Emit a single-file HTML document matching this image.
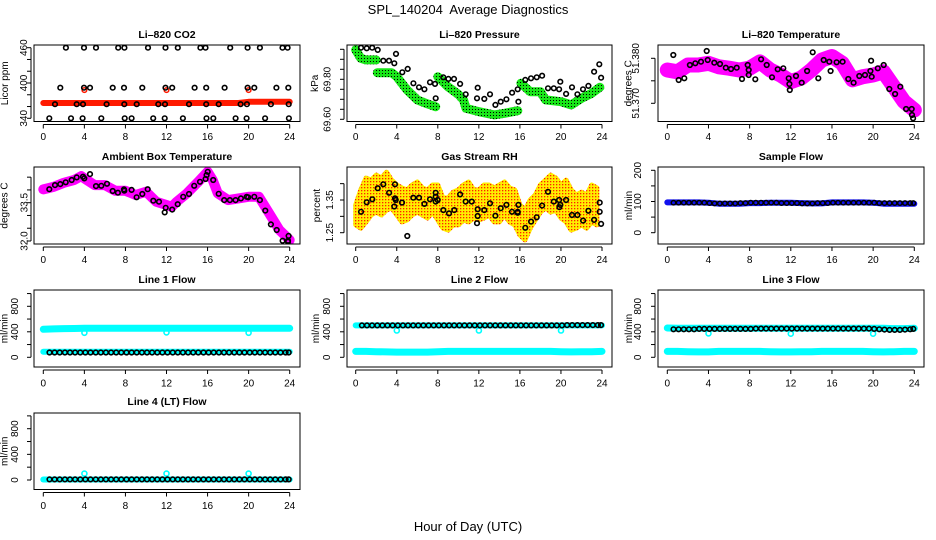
<!DOCTYPE html>
<html><head><meta charset="utf-8"><title>SPL_140204 Average Diagnostics</title>
<style>
html,body{margin:0;padding:0;background:#fff;}
svg{display:block;font-family:"Liberation Sans",sans-serif;}
</style></head>
<body>
<svg id="chart" width="936" height="540" viewBox="0 0 936 540" xmlns="http://www.w3.org/2000/svg">
<defs>
<pattern id="greenDots" width="3" height="3" patternUnits="userSpaceOnUse"><rect width="3" height="3" fill="#19e619"/><rect x="1" y="1" width="1" height="1" fill="#000"/></pattern>
<pattern id="rhDots" width="3" height="3" patternUnits="userSpaceOnUse"><rect width="3" height="3" fill="#ffee00"/><rect x="1" y="1" width="1.3" height="1.3" fill="#ff2000"/></pattern>
</defs>
<text x="468" y="14" text-anchor="middle" font-size="13">SPL_140204&#160; Average Diagnostics</text>
<text x="468" y="531" text-anchor="middle" font-size="13">Hour of Day (UTC)</text>
</svg>
<script>
// ---------- data ----------
const hourTicks = [0,4,8,12,16,20,24];
const hourlyHours = [0,1,2,3,4,5,6,7,8,9,10,11,12,13,14,15,16,17,18,19,20,21,22,23,24];
const halfHours = [0.6,1.1,1.6,2.1,2.6,3.1,3.6,4.1,4.6,5.1,5.6,6.1,6.6,7.1,7.6,8.1,8.6,9.1,9.6,10.1,10.6,11.1,11.6,12.1,12.6,13.1,13.6,14.1,14.6,15.1,15.6,16.1,16.6,17.1,17.6,18.1,18.6,19.1,19.6,20.1,20.6,21.1,21.6,22.1,22.6,23.1,23.6,23.9];
const outlierHours = [4,12,20];

// CO2
const co2Band = [366,366,366,366,366,366,366,366,366,366,366,366,366,366,366,366,366,366,366,366,368,368,368,368,368];
const co2Outliers = [388,388,388];
const co2BlackHours = [2.2,3.96,5.13,7.3,7.9,10.2,11.9,13.1,15.3,15.8,18.2,19.9,21.1,23.3,23.8, 1.66,3.96,4.55,6.76,7.86,9.64,11.9,12.56,14.74,15.87,17.66,19.9,20.55,22.7,23.86, 1.14,3.25,3.87,6.17,7.89,9.1,11.2,11.85,14.19,15.87,17.08,19.22,19.83,22.17,23.9, 0.58,2.7,3.83,5.65,7.93,8.6,10.7,11.82,13.6,15.9,16.56,18.73,19.8,21.6,23.92];
const co2BlackValues = [460,460,460,460,460,460,460,460,460,460,460,460,460,460,460, 392,392,392,392,392,392,392,392,392,392,392,392,392,392,392, 364,364,364,364,364,364,364,364,364,364,364,364,364,364,364, 340,340,340,340,340,340,340,340,340,340,340,340,340,340,340];

// Pressure
const pressBandHours = [0,0.5,1,2,null,2.1,3.5,4,5,6,7,7.8,null,8,9,10,10.5,10.75,12,13.5,14.5,15.8,null,16.1,17,18,18.5,20,21,22,23,23.8];
const pressBandValues = [69.947,69.905,69.897,69.897,null,69.833,69.833,69.813,69.747,69.697,69.677,69.663,null,69.813,69.762,69.725,69.697,69.655,69.638,69.622,69.630,69.643,null,69.780,69.738,69.738,69.697,69.688,69.672,69.705,69.730,69.760];
const pressBlackHours = [0.52,1.07,1.61,2.14,2.69,3.24,3.76,3.93,4.54,5.07,5.62,6.17,6.69,7.24,7.73,7.8,8.54,9.03,9.58,10.17,10.72,11.89,11.82,12.53,13.09,13.61,14.13,14.68,15.24,15.79,15.85,16.53,17.08,17.64,18.16,18.74,19.3,19.82,19.94,20.5,21.08,21.6,22.15,22.67,23.23,23.74,23.91];
const pressBlackValues = [69.958,69.955,69.958,69.947,69.893,69.893,69.880,69.927,69.835,69.852,69.780,69.760,69.750,69.785,69.777,69.705,69.810,69.802,69.802,69.777,69.725,69.758,69.705,69.702,69.725,69.672,69.688,69.700,69.733,69.750,69.688,69.797,69.805,69.810,69.818,69.755,69.755,69.750,69.788,69.727,69.760,69.725,69.750,69.767,69.838,69.875,69.808];

// Li-820 temperature
const tempBand = [51.3774,51.3770,51.3785,51.3785,51.3789,51.3781,51.3778,51.3774,51.3778,51.3792,51.3774,51.3763,51.3748,51.3756,51.3774,51.3796,51.3804,51.3789,51.3752,51.3759,51.3763,51.3770,51.3737,51.3704,51.3685];
const tempBlackHours = [0.58,1.11,1.65,2.2,2.72,3.27,3.83,3.93,4.57,5.12,5.68,6.19,6.74,7.26,7.81,7.91,7.91,8.55,9.11,9.66,10.17,10.73,11.27,11.8,11.86,11.9,12.51,13.06,13.58,14.13,14.67,15.2,15.74,15.87,16.45,17.03,17.59,18.1,18.66,19.21,19.73,19.8,19.86,20.45,21.03,21.57,22.13,22.64,23.2,23.75,23.78,23.88];
const tempBlackValues = [51.38073,51.37518,51.37556,51.37851,51.37889,51.37924,51.38162,51.37962,51.37902,51.37873,51.37791,51.37762,51.37791,51.3754,51.37851,51.3774,51.37629,51.37533,51.37978,51.37851,51.37578,51.37756,51.37778,51.37556,51.37429,51.37296,51.37607,51.37458,51.37718,51.38133,51.37556,51.37962,51.37924,51.37718,51.37911,51.37924,51.3754,51.37458,51.37607,51.37629,51.37718,51.37947,51.37591,51.37778,51.37851,51.37318,51.37207,51.37369,51.36873,51.36873,51.3674,51.36667];

// Ambient box temperature
const ambBandHours = [0,1,2,3,3.7,4,5,6,7,8,9,10,11,12,12.5,13,14,15,16,16.5,17,18,19,20,21,22,23,24];
const ambBandValues = [34.02,34.12,34.28,34.39,34.54,34.45,34.19,34.19,33.97,33.97,33.80,33.93,33.54,33.41,33.34,33.54,33.87,34.28,34.71,34.39,33.87,33.60,33.67,33.73,33.73,33.08,32.43,32.04];
const ambBlackHours = [0.58,1.14,1.66,2.18,2.77,3.25,3.87,3.99,4.55,5.13,5.65,6.2,6.76,7.27,7.86,7.89,8.6,9.09,9.64,10.17,10.71,11.27,11.82,11.92,12.56,13.09,13.63,14.19,14.7,15.26,15.81,15.91,16.01,16.55,17.08,17.62,18.18,18.73,19.25,19.81,19.96,20.55,21.1,21.62,22.17,22.73,23.31,23.83,23.89,23.83];
const ambBlackValues = [34.03,34.19,34.23,34.30,34.39,34.49,34.52,34.45,34.62,34.15,34.16,34.24,33.96,33.89,34.02,33.97,34.0,33.71,33.84,34.03,33.58,33.54,33.12,33.30,33.23,33.44,33.73,33.84,34.16,34.32,34.43,34.58,34.71,34.39,33.85,33.60,33.60,33.60,33.67,33.73,33.71,33.73,33.60,33.19,32.65,32.43,32.01,32.01,32.20,31.97];

// Gas stream RH
const rhHours = [0,0.5,1,1.5,2,2.5,3,3.5,4,4.5,5,5.5,6,6.5,7,7.5,8,8.5,9,9.5,10,10.5,11,11.5,12,12.5,13,13.5,14,14.5,15,15.5,16,16.5,17,17.5,18,18.5,19,19.5,20,20.5,21,21.5,22,22.5,23,23.5];
const rhLow = [1.274,1.264,1.283,1.304,1.313,1.304,1.319,1.326,1.304,1.283,1.289,1.304,1.313,1.304,1.295,1.313,1.289,1.264,1.258,1.274,1.274,1.289,1.283,1.295,1.289,1.295,1.304,1.283,1.283,1.304,1.283,1.274,1.243,1.228,1.264,1.289,1.313,1.326,1.313,1.319,1.295,1.283,1.258,1.264,1.274,1.264,1.283,1.274];
const rhHigh = [1.335,1.381,1.417,1.411,1.426,1.417,1.435,1.411,1.396,1.387,1.381,1.396,1.405,1.387,1.381,1.396,1.396,1.356,1.356,1.374,1.381,1.396,1.405,1.381,1.381,1.396,1.396,1.387,1.396,1.405,1.387,1.381,1.335,1.319,1.350,1.365,1.396,1.411,1.426,1.417,1.396,1.411,1.381,1.365,1.374,1.365,1.396,1.387];
const rhBlackHours = [0.52,1.07,1.62,2.14,2.69,3.25,3.83,3.83,3.9,3.76,4.51,5.03,5.61,6.17,6.69,7.24,7.8,7.8,7.8,7.99,8.54,9.09,9.61,10.17,10.72,11.31,11.89,11.89,11.82,12.53,13.09,13.61,14.13,14.68,15.23,15.79,15.85,15.79,16.53,17.09,17.64,18.16,18.74,19.3,19.82,19.85,19.94,20.5,21.08,21.6,22.16,22.67,23.23,23.78,23.78,23.91];
const rhBlackValues = [1.314,1.343,1.352,1.386,1.398,1.372,1.398,1.355,1.350,1.330,1.342,1.240,1.357,1.357,1.338,1.352,1.372,1.360,1.345,1.350,1.319,1.309,1.319,1.367,1.345,1.345,1.322,1.301,1.279,1.319,1.340,1.302,1.325,1.335,1.314,1.311,1.335,1.314,1.265,1.284,1.297,1.333,1.375,1.345,1.350,1.328,1.335,1.350,1.304,1.304,1.287,1.317,1.289,1.342,1.314,1.277];

// Sample flow
const sampleBand = [97,97,97,97,96,93,93,93,95,95,96,96,96,95,94,94,97,97,97,97,96,93,93,93,93];
const sampleBlack = [96,96,96,96,96,96,96,95,94,94,94,94,94,95,95,96,96,96,96,96,96,95,95,95,95,94,94,94,95,95,95,96,96,96,96,96,96,96,96,96,95,95,95,95,95,95,95,95];

// Line flows
const l1Upper = [440,445,450,452,455,455,455,455,455,455,455,455,455,455,455,455,455,455,455,455,455,455,455,455,455];
const l1Lower = [88,88,88,88,88,88,88,88,88,88,88,88,88,88,88,88,88,88,88,88,88,88,88,88,88];
const l1Black = [75,75,75,75,75,75,75,75,75,75,75,75,75,75,75,75,75,75,75,75,75,75,75,75,75,75,75,75,75,75,75,75,75,75,75,75,75,75,75,75,75,75,75,75,75,75,75,75];
const l1Out = [385,390,385];
const l2Upper = [500,500,500,500,500,500,500,500,500,500,500,500,500,500,500,500,500,500,500,500,500,500,500,500,500];
const l2Lower = [92,92,88,85,82,82,82,82,88,92,92,92,92,92,92,92,92,92,92,92,88,85,88,88,92];
const l2Black = [500,500,500,500,500,500,500,500,500,500,500,500,500,500,500,500,500,500,500,500,500,500,500,500,500,500,500,500,500,500,500,500,500,500,500,500,500,500,500,500,505,505,505,505,505,505,505,505];
const l2Out = [420,420,420];
const l3Upper = [460,455,455,455,455,455,455,455,455,455,455,455,455,455,455,455,455,455,455,455,455,455,450,450,455];
const l3Lower = [92,92,88,85,85,92,92,92,92,92,88,85,85,88,88,92,92,92,92,92,88,85,88,92,92];
const l3Black = [440,440,440,440,440,445,445,445,445,445,445,445,445,445,445,445,450,450,450,450,450,450,450,450,450,450,450,450,450,450,450,450,450,450,450,450,450,450,450,445,440,435,430,430,430,435,440,445];
const l3Out = [375,370,370];
const l4Band = [8,8,8,8,8,8,8,8,8,8,8,8,8,8,8,8,8,8,8,8,8,8,8,8,8];
const l4Black = [10,10,10,10,10,10,10,10,10,10,10,10,10,10,10,10,10,10,10,10,10,10,10,10,10,10,10,10,10,10,10,10,10,10,10,10,10,10,10,10,10,10,10,10,10,10,10,10];
const l4Out = [100,100,100];

// ---------- drawing ----------
const NS = 'http://www.w3.org/2000/svg';
const svg = document.getElementById('chart');
function el(tag, attrs, parent){
  const e = document.createElementNS(NS, tag);
  for (const k in attrs) e.setAttribute(k, attrs[k]);
  (parent || svg).appendChild(e);
  return e;
}
const cols = [
  {left:34, right:300, x0:43.3, x24:289.7},
  {left:347, right:612, x0:355.7, x24:602},
  {left:658, right:924, x0:667.3, x24:914.3}
];
const rows = [
  {top:45, bottom:121.5, title:38, tl:140},
  {top:167, bottom:244, title:160, tl:263},
  {top:290, bottom:367, title:283, tl:386.5},
  {top:413, bottom:489.5, title:405, tl:509}
];
function makePanel(name, title, col, row, yA, yB, ticks, labels, yTitle, labX, titX){
  const c = cols[col], r = rows[row];
  const p = {c, r, yA, yB};
  p.sx = h => c.x0 + (c.x24 - c.x0) * h / 24;
  p.sy = v => yA[1] + (v - yA[0]) * (yB[1] - yA[1]) / (yB[0] - yA[0]);
  const g = el('g', {});
  
  
  p.g = g;
  const clipId = 'clip-' + name;
  const cp = el('clipPath', {id: clipId}, g);
  el('rect', {x:c.left, y:r.top, width:c.right-c.left, height:r.bottom-r.top}, cp);
  p.plot = el('g', {'clip-path':'url(#'+clipId+')'}, g);
  
  
  const t = el('text', {x:(c.left+c.right)/2, y:r.title, 'text-anchor':'middle', 'font-size':10.5, 'font-weight':'bold'}, g);
  t.textContent = title;
  
  
  const xa = el('g', {stroke:'#000', 'stroke-width':1}, g);
  
  
  el('line', {x1:c.x0, x2:c.x24, y1:r.bottom+3, y2:r.bottom+3}, xa);
  hourTicks.forEach(h => {
    el('line', {x1:p.sx(h), x2:p.sx(h), y1:r.bottom+3, y2:r.bottom+7}, xa);
    const tl = el('text', {x:p.sx(h), y:r.tl, 'text-anchor':'middle', 'font-size':10, stroke:'none'}, g);
    tl.textContent = h;
    
    
  });
  const ya = el('g', {stroke:'#000', 'stroke-width':1}, g);
  
  
  const ys = ticks.map(p.sy);
  el('line', {x1:c.left-3, x2:c.left-3, y1:Math.min(...ys), y2:Math.max(...ys)}, ya);
  ys.forEach(y => el('line', {x1:c.left-3, x2:c.left-7, y1:y, y2:y}, ya));
  labels.forEach(lb => {
    const y = p.sy(lb.v);
    const tl = el('text', {x:labX+3.5, y:y, 'text-anchor':'middle', 'font-size':10, transform:'rotate(-90 '+(labX+3.5)+' '+y+')'}, g);
    tl.textContent = lb.t;
    
    
  });
  const yc = (r.top + r.bottom) / 2;
  const yt = el('text', {x:titX+3.5, y:yc, 'text-anchor':'middle', 'font-size':10, transform:'rotate(-90 '+(titX+3.5)+' '+yc+')'}, g);
  yt.textContent = yTitle;
  
  
  const box = el('rect', {x:c.left, y:r.top, width:c.right-c.left, height:r.bottom-r.top, fill:'none', stroke:'#000', 'stroke-width':1}, g);
  
  
  return p;
}
function band(p, hours, vals, color, width, name){
  let segs = [[]];
  hours.forEach((h, i) => {
    if (h === null || vals[i] === null) { segs.push([]); return; }
    segs[segs.length-1].push(p.sx(h).toFixed(1) + ',' + p.sy(vals[i]).toFixed(1));
  });
  segs.filter(s => s.length).forEach(s => {
    const pl = el('polyline', {points:s.join(' '), fill:'none', stroke:color, 'stroke-width':width, 'stroke-linecap':'round', 'stroke-linejoin':'round'}, p.plot);
    
    
  });
}
function pts(p, hours, vals, color, r, sw, name){
  hours.forEach((h, i) => {
    const ci = el('circle', {cx:p.sx(h).toFixed(1), cy:p.sy(vals[i]).toFixed(1), r:r, fill:'none', stroke:color, 'stroke-width':sw}, p.plot);
    
    
  });
}

const p1 = makePanel('co2-panel', 'Li\u2013820 CO2', 0, 0, [340,118.3], [460,47.7], [340,360,380,400,420,440,460], [{v:340,t:'340'},{v:400,t:'400'},{v:460,t:'460'}], 'Licor ppm', 23.5, 4.5);
band(p1, hourlyHours, co2Band, '#ff1a00', 6, 'co2-band');
pts(p1, outlierHours, co2Outliers, '#ff1a00', 2.3, 1.5, 'co2-outlier');
pts(p1, co2BlackHours, co2BlackValues, '#000', 2.3, 1.6, 'co2-point');

const p2 = makePanel('pressure-panel', 'Li\u2013820 Pressure', 1, 0, [69.60,119.3], [69.80,79.3], [69.60,69.65,69.70,69.75,69.80,69.85,69.90,69.95], [{v:69.60,t:'69.60'},{v:69.80,t:'69.80'}], 'kPa', 327, 314.5);
band(p2, pressBandHours, pressBandValues, 'url(#greenDots)', 9, 'pressure-band');
pts(p2, pressBlackHours, pressBlackValues, '#000', 2.3, 1.6, 'pressure-point');

const p3 = makePanel('temperature-panel', 'Li\u2013820 Temperature', 2, 0, [51.370,103.3], [51.380,58.3], [51.370,51.375,51.380], [{v:51.370,t:'51.370'},{v:51.380,t:'51.380'}], 'degrees C', 635.5, 628);
band(p3, hourlyHours, tempBand, '#ff00ff', 15, 'temperature-band');
pts(p3, tempBlackHours, tempBlackValues, '#000', 2.3, 1.6, 'temperature-point');

const p4 = makePanel('ambient-temp-panel', 'Ambient Box Temperature', 0, 1, [32.0,241], [33.5,202.7], [32.0,32.5,33.0,33.5,34.0,34.5], [{v:32.0,t:'32.0'},{v:33.5,t:'33.5'}], 'degrees C', 24, 4);
band(p4, ambBandHours, ambBandValues, '#ff00ff', 10, 'ambient-band');
pts(p4, ambBlackHours, ambBlackValues, '#000', 2.3, 1.6, 'ambient-point');

const p5 = makePanel('rh-panel', 'Gas Stream RH', 1, 1, [1.25,232.7], [1.35,200], [1.25,1.30,1.35,1.40], [{v:1.25,t:'1.25'},{v:1.35,t:'1.35'}], 'percent', 329.5, 316.5);
(function(){
  const top = rhHours.map((h,i) => p5.sx(h).toFixed(1) + ',' + p5.sy(rhHigh[i]).toFixed(1));
  const bot = rhHours.map((h,i) => p5.sx(h).toFixed(1) + ',' + p5.sy(rhLow[i]).toFixed(1)).reverse();
  const pg = el('polygon', {points: top.concat(bot).join(' '), fill:'url(#rhDots)', stroke:'url(#rhDots)', 'stroke-width':5, 'stroke-linejoin':'round'}, p5.plot);
  
  
})();
pts(p5, rhBlackHours, rhBlackValues, '#000', 2.3, 1.6, 'rh-point');

const p6 = makePanel('sample-flow-panel', 'Sample Flow', 2, 1, [0,232.7], [200,170.3], [0,50,100,150,200], [{v:0,t:'0'},{v:100,t:'100'},{v:200,t:'200'}], 'ml/min', 637.5, 628.5);
band(p6, hourlyHours, sampleBand, '#1010ee', 6, 'sample-flow-band');
pts(p6, halfHours, sampleBlack, '#000', 2.2, 1.5, 'sample-flow-point');

const flowTicks = [0,200,400,600,800,1000];
const flowLabels = [{v:0,t:'0'},{v:400,t:'400'},{v:800,t:'800'}];
const p7 = makePanel('line1-flow-panel', 'Line 1 Flow', 0, 2, [0,357.3], [800,306.3], flowTicks, flowLabels, 'ml/min', 14.5, 4);
band(p7, hourlyHours, l1Upper, '#00ffff', 7, 'line1-upper-band');
band(p7, hourlyHours, l1Lower, '#00ffff', 6, 'line1-lower-band');
pts(p7, outlierHours, l1Out, '#00ffff', 2.5, 1.6, 'line1-outlier');
pts(p7, halfHours, l1Black, '#000', 2.3, 1.6, 'line1-point');

const p8 = makePanel('line2-flow-panel', 'Line 2 Flow', 1, 2, [0,357.3], [800,306.3], flowTicks, flowLabels, 'ml/min', 326.5, 315.5);
band(p8, hourlyHours, l2Upper, '#00ffff', 6, 'line2-upper-band');
band(p8, hourlyHours, l2Lower, '#00ffff', 7, 'line2-lower-band');
pts(p8, outlierHours, l2Out, '#00ffff', 2.5, 1.6, 'line2-outlier');
pts(p8, halfHours, l2Black, '#000', 2.3, 1.6, 'line2-point');

const p9 = makePanel('line3-flow-panel', 'Line 3 Flow', 2, 2, [0,357.3], [800,306.3], flowTicks, flowLabels, 'ml/min', 637.5, 628.5);
band(p9, hourlyHours, l3Upper, '#00ffff', 7, 'line3-upper-band');
band(p9, hourlyHours, l3Lower, '#00ffff', 7, 'line3-lower-band');
pts(p9, outlierHours, l3Out, '#00ffff', 2.5, 1.6, 'line3-outlier');
pts(p9, halfHours, l3Black, '#000', 2.3, 1.6, 'line3-point');

const p10 = makePanel('line4-flow-panel', 'Line 4 (LT) Flow', 0, 3, [0,480], [800,428.7], flowTicks, flowLabels, 'ml/min', 14.5, 4);
band(p10, hourlyHours, l4Band, '#00ffff', 6, 'line4-band');
pts(p10, outlierHours, l4Out, '#00ffff', 2.5, 1.6, 'line4-outlier');
pts(p10, halfHours, l4Black, '#000', 2.3, 1.6, 'line4-point');
</script>
</body></html>
